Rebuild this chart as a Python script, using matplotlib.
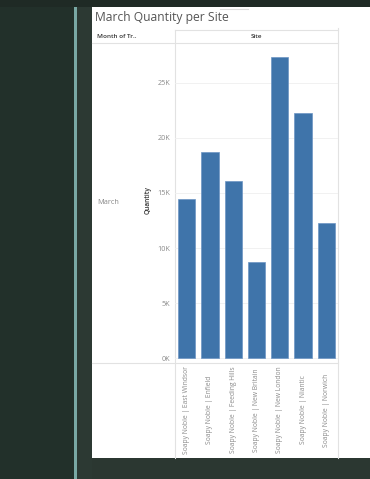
import matplotlib
matplotlib.use('Agg')
import matplotlib.pyplot as plt
from matplotlib.patches import Rectangle
from matplotlib.lines import Line2D

plt.rcParams['font.family'] = ['Open Sans', 'DejaVu Sans']

# data
sites = ['Soapy Noble | East Windsor', 'Soapy Noble | Enfield', 'Soapy Noble | Feeding Hills',
         'Soapy Noble | New Britain', 'Soapy Noble | New London', 'Soapy Noble | Niantic',
         'Soapy Noble | Norwich']
quantity = [14470, 18700, 16050, 8740, 27280, 22260, 12300]
y_ticks = [0, 5000, 10000, 15000, 20000, 25000]
y_tick_labels = ['0K', '5K', '10K', '15K', '20K', '25K']

W, H = 370, 479
fig = plt.figure(figsize=(W / 100, H / 100), dpi=100)
fig.patch.set_facecolor('#2b3731')


def rect(x0, y0, x1, y1, color):
    # pixel box (top-left origin) -> figure fraction
    fig.patches.append(Rectangle((x0 / W, 1 - y1 / H), (x1 - x0) / W, (y1 - y0) / H,
                                 transform=fig.transFigure, facecolor=color, edgecolor='none', zorder=-10))


def line(x0, y0, x1, y1, color='#e2e2e2', lw=0.8):
    fig.lines.append(Line2D([x0 / W, x1 / W], [1 - y0 / H, 1 - y1 / H], transform=fig.transFigure,
                            color=color, lw=lw, zorder=-5))


# dashboard background
rect(0, 0, W, 7, '#1f2a25')
rect(0, 7, 74, H, '#22302a')
rect(74, 7, 77, H, '#79a8a4')
rect(77, 7, 92, H, '#2c3933')
rect(92, 7, W, 458, 'white')
line(220, 9, 248, 9, color='#dddddd')

# table borders
line(175, 30, 338, 30)
line(92, 43, 338, 43)
line(175, 30, 175, 458)
line(338, 28, 338, 458)
line(92, 363, 338, 363)

fig.text(95 / W, 1 - 17 / H, 'March Quantity per Site', fontsize=8.7, color='#555555', va='center')
fig.text(97 / W, 1 - 37 / H, 'Month of Tr..', fontsize=4.6, color='#333333', va='center', weight='semibold')
fig.text(256 / W, 1 - 37 / H, 'Site', fontsize=4.6, color='#333333', va='center', ha='center', weight='semibold')
fig.text(97 / W, 1 - 203 / H, 'March', fontsize=5.3, color='#888888', va='center')
fig.text(148 / W, 1 - 200 / H, 'Quantity', fontsize=4.8, color='#333333', va='center', ha='center',
         rotation=90, weight='semibold')

ax = fig.add_axes([175 / W, 1 - 363 / H, 163 / W, 320 / H])
ax.set_zorder(1)
ax.set_facecolor('none')
ax.bar(range(len(sites)), quantity, width=0.74, color='#3f74aa', edgecolor='#6c95c4', linewidth=0.5, zorder=3)
ax.set_xlim(-0.5, len(sites) - 0.5)
ax.set_ylim(-410, 28580)
ax.set_yticks(y_ticks)
ax.set_yticklabels(y_tick_labels)
ax.grid(axis='y', color='#efefef', lw=0.6, zorder=0)
ax.set_xticks(range(len(sites)))
ax.set_xticklabels(sites, rotation=90)
ax.tick_params(axis='y', length=0, pad=3.6, labelsize=5.2, labelcolor='#8a8a8a')
ax.tick_params(axis='x', length=0, pad=33.8, labelsize=4.9, labelcolor='#8a8a8a')
for lbl in ax.get_xticklabels():
    lbl.set_va('center')
for s in ax.spines.values():
    s.set_visible(False)

fig.savefig('out.png', dpi=100)
